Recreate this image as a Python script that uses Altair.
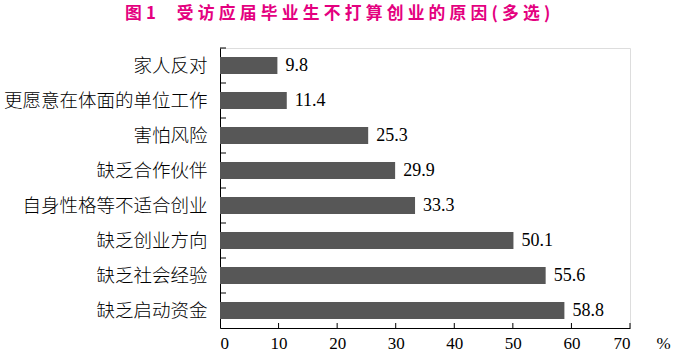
import altair as alt
import pandas as pd

categories = ["家人反对", "更愿意在体面的单位工作", "害怕风险", "缺乏合作伙伴",
              "自身性格等不适合创业", "缺乏创业方向", "缺乏社会经验", "缺乏启动资金"]
values = [9.8, 11.4, 25.3, 29.9, 33.3, 50.1, 55.6, 58.8]
tick_values = [0, 10, 20, 30, 40, 50, 60, 70]
title_label = "图 1"
title_main = "受访应届毕业生不打算创业的原因"
title_note = "(多选)"

SP = "\u2005"  # four-per-em space used as letter spacing
title_text = (title_label.replace(" ", SP) + "\u3000" + SP
              + SP.join(title_main) + SP + SP.join(title_note))

df = pd.DataFrame({"cat": categories, "val": values})
ticks_df = pd.DataFrame({"t": tick_values[1:]})

W, H = 410, 280
SERIF = "'Liberation Serif', 'Times New Roman', serif"

xscale = alt.Scale(domain=[0, 70], nice=False, zero=True)
yscale = alt.Scale(paddingInner=0, paddingOuter=0)

base = alt.Chart(df)

bars = base.mark_bar(color="#575757", height=alt.RelativeBandSize(0.48)).encode(
    x=alt.X("val:Q", scale=xscale,
            axis=alt.Axis(values=tick_values, ticks=False, grid=False, domainColor="black",
                          labelFont=SERIF, labelFontSize=17, labelColor="black",
                          labelPadding=7, title="%", titleFont=SERIF,
                          titleFontSize=17, titleFontWeight="normal", titleColor="black",
                          titleX=443, titleY=7, titleBaseline="top", titleAlign="center")),
    y=alt.Y("cat:N", sort=categories, scale=yscale,
            axis=alt.Axis(ticks=False, grid=False, domainColor="black", title=None,
                          labelFont="Noto Sans CJK SC", labelFontSize=18.5, labelColor="black",
                          labelFontWeight=300, labelPadding=13, labelLimit=0)),
)

labels = base.mark_text(align="left", baseline="middle", dx=8, font=SERIF,
                        fontSize=18, color="black").encode(
    x=alt.X("val:Q", scale=xscale),
    y=alt.Y("cat:N", sort=categories, scale=yscale),
    text=alt.Text("val:Q", format=".1f"),
)

ytick = base.mark_rule(color="black", strokeWidth=1).encode(
    y=alt.Y("cat:N", sort=categories, scale=yscale, bandPosition=0),
    x=alt.value(0),
    x2=alt.value(6),
)

xtick = alt.Chart(ticks_df).mark_rule(color="black", strokeWidth=1).encode(
    x=alt.X("t:Q", scale=xscale),
    y=alt.value(H),
    y2=alt.value(H - 5),
)

chart = alt.layer(bars, labels, ytick, xtick).properties(
    width=W, height=H,
    title=alt.TitleParams(title_text, anchor="start", frame="group", dx=-95,
                          baseline="middle", offset=17, font="Noto Sans CJK SC",
                          fontSize=16.8, fontWeight="bold", color="#E4007F"),
    autosize=alt.AutoSizeParams(type="none"),
    padding={"left": 220, "top": 48, "right": 43, "bottom": 26},
).configure_view(stroke=None).configure(background="white")

chart.save("out.html", embed_options={"renderer": "svg", "actions": False})
